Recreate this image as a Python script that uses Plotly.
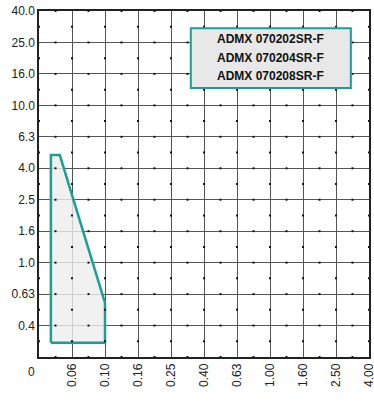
import plotly.graph_objects as go

x_labels = ["0", "0.06", "0.10", "0.16", "0.25", "0.40", "0.63", "1.00", "1.60", "2.50", "4.00"]
y_labels = ["0", "0.4", "0.63", "1.0", "1.6", "2.5", "4.0", "6.3", "10.0", "16.0", "25.0", "40.0"]

# operating region polygon, in grid-index units (x index, y index)
poly_x = [0.36, 0.36, 0.63, 2.0, 2.0, 0.36]
poly_y = [0.45, 6.42, 6.42, 1.72, 0.45, 0.45]

legend_lines = ["ADMX 070202SR-F", "ADMX 070204SR-F", "ADMX 070208SR-F"]

FONT = "Liberation Sans, Arial, sans-serif"
TEAL = "#1a9e96"

nx = len(x_labels) - 1
ny = len(y_labels) - 1

fig = go.Figure()

fig.add_trace(go.Scatter(x=poly_x, y=poly_y, mode="lines", fill="toself",
                         fillcolor="rgba(238,238,238,0.8)",
                         line=dict(color=TEAL, width=2.5),
                         hoverinfo="skip", showlegend=False))

# minor dots at half-grid positions along grid lines
dx, dy = [], []
for i in range(nx + 1):
    for j in range(ny):
        dx.append(i); dy.append(j + 0.5)
for j in range(ny + 1):
    for i in range(nx):
        dx.append(i + 0.5); dy.append(j)
fig.add_trace(go.Scatter(x=dx, y=dy, mode="markers",
                         marker=dict(symbol="square", size=2, color="#111", line=dict(width=0)),
                         hoverinfo="skip", showlegend=False, cliponaxis=False))

fig.update_xaxes(range=[0, nx], tickmode="array", tickvals=list(range(1, nx + 1)),
                 ticktext=x_labels[1:], tickangle=-90, automargin=False,
                 ticklabeloverflow="allow",
                 showgrid=True, gridcolor="#555", gridwidth=1,
                 showline=True, linecolor="#222", linewidth=1.5, mirror=True,
                 zeroline=False, ticks="",
                 tickfont=dict(family=FONT, size=12, color="#222"))
fig.update_yaxes(range=[0, ny], tickmode="array", tickvals=list(range(1, ny + 1)),
                 ticktext=y_labels[1:], automargin=False,
                 ticklabeloverflow="allow",
                 showgrid=True, gridcolor="#555", gridwidth=1,
                 showline=True, linecolor="#222", linewidth=1.5, mirror=True,
                 zeroline=False, ticks="",
                 tickfont=dict(family=FONT, size=12, color="#222"))

# origin label "0"
fig.add_annotation(xref="paper", yref="paper", x=-0.024, y=-0.043,
                   text=x_labels[0], showarrow=False, xanchor="center", yanchor="middle",
                   font=dict(family=FONT, size=12, color="#222"))

# legend box
fig.add_shape(type="rect", xref="x", yref="y", x0=4.6, x1=9.45, y0=8.55, y1=10.45,
              fillcolor="#e8e8e8", line=dict(color=TEAL, width=2), layer="above")
for k, t in enumerate(legend_lines):
    fig.add_annotation(xref="x", yref="y", x=7.03, y=10.1 - k * 0.59, text="<b>" + t + "</b>",
                       showarrow=False, font=dict(family=FONT, size=12, color="#111"))

fig.update_layout(width=374, height=409, margin=dict(l=39, r=5, t=11, b=52),
                  plot_bgcolor="white", paper_bgcolor="white", showlegend=False)

fig.write_html("out.html", config={"displayModeBar": False},
               post_script="document.body.style.margin='0';document.body.style.padding='0';")
